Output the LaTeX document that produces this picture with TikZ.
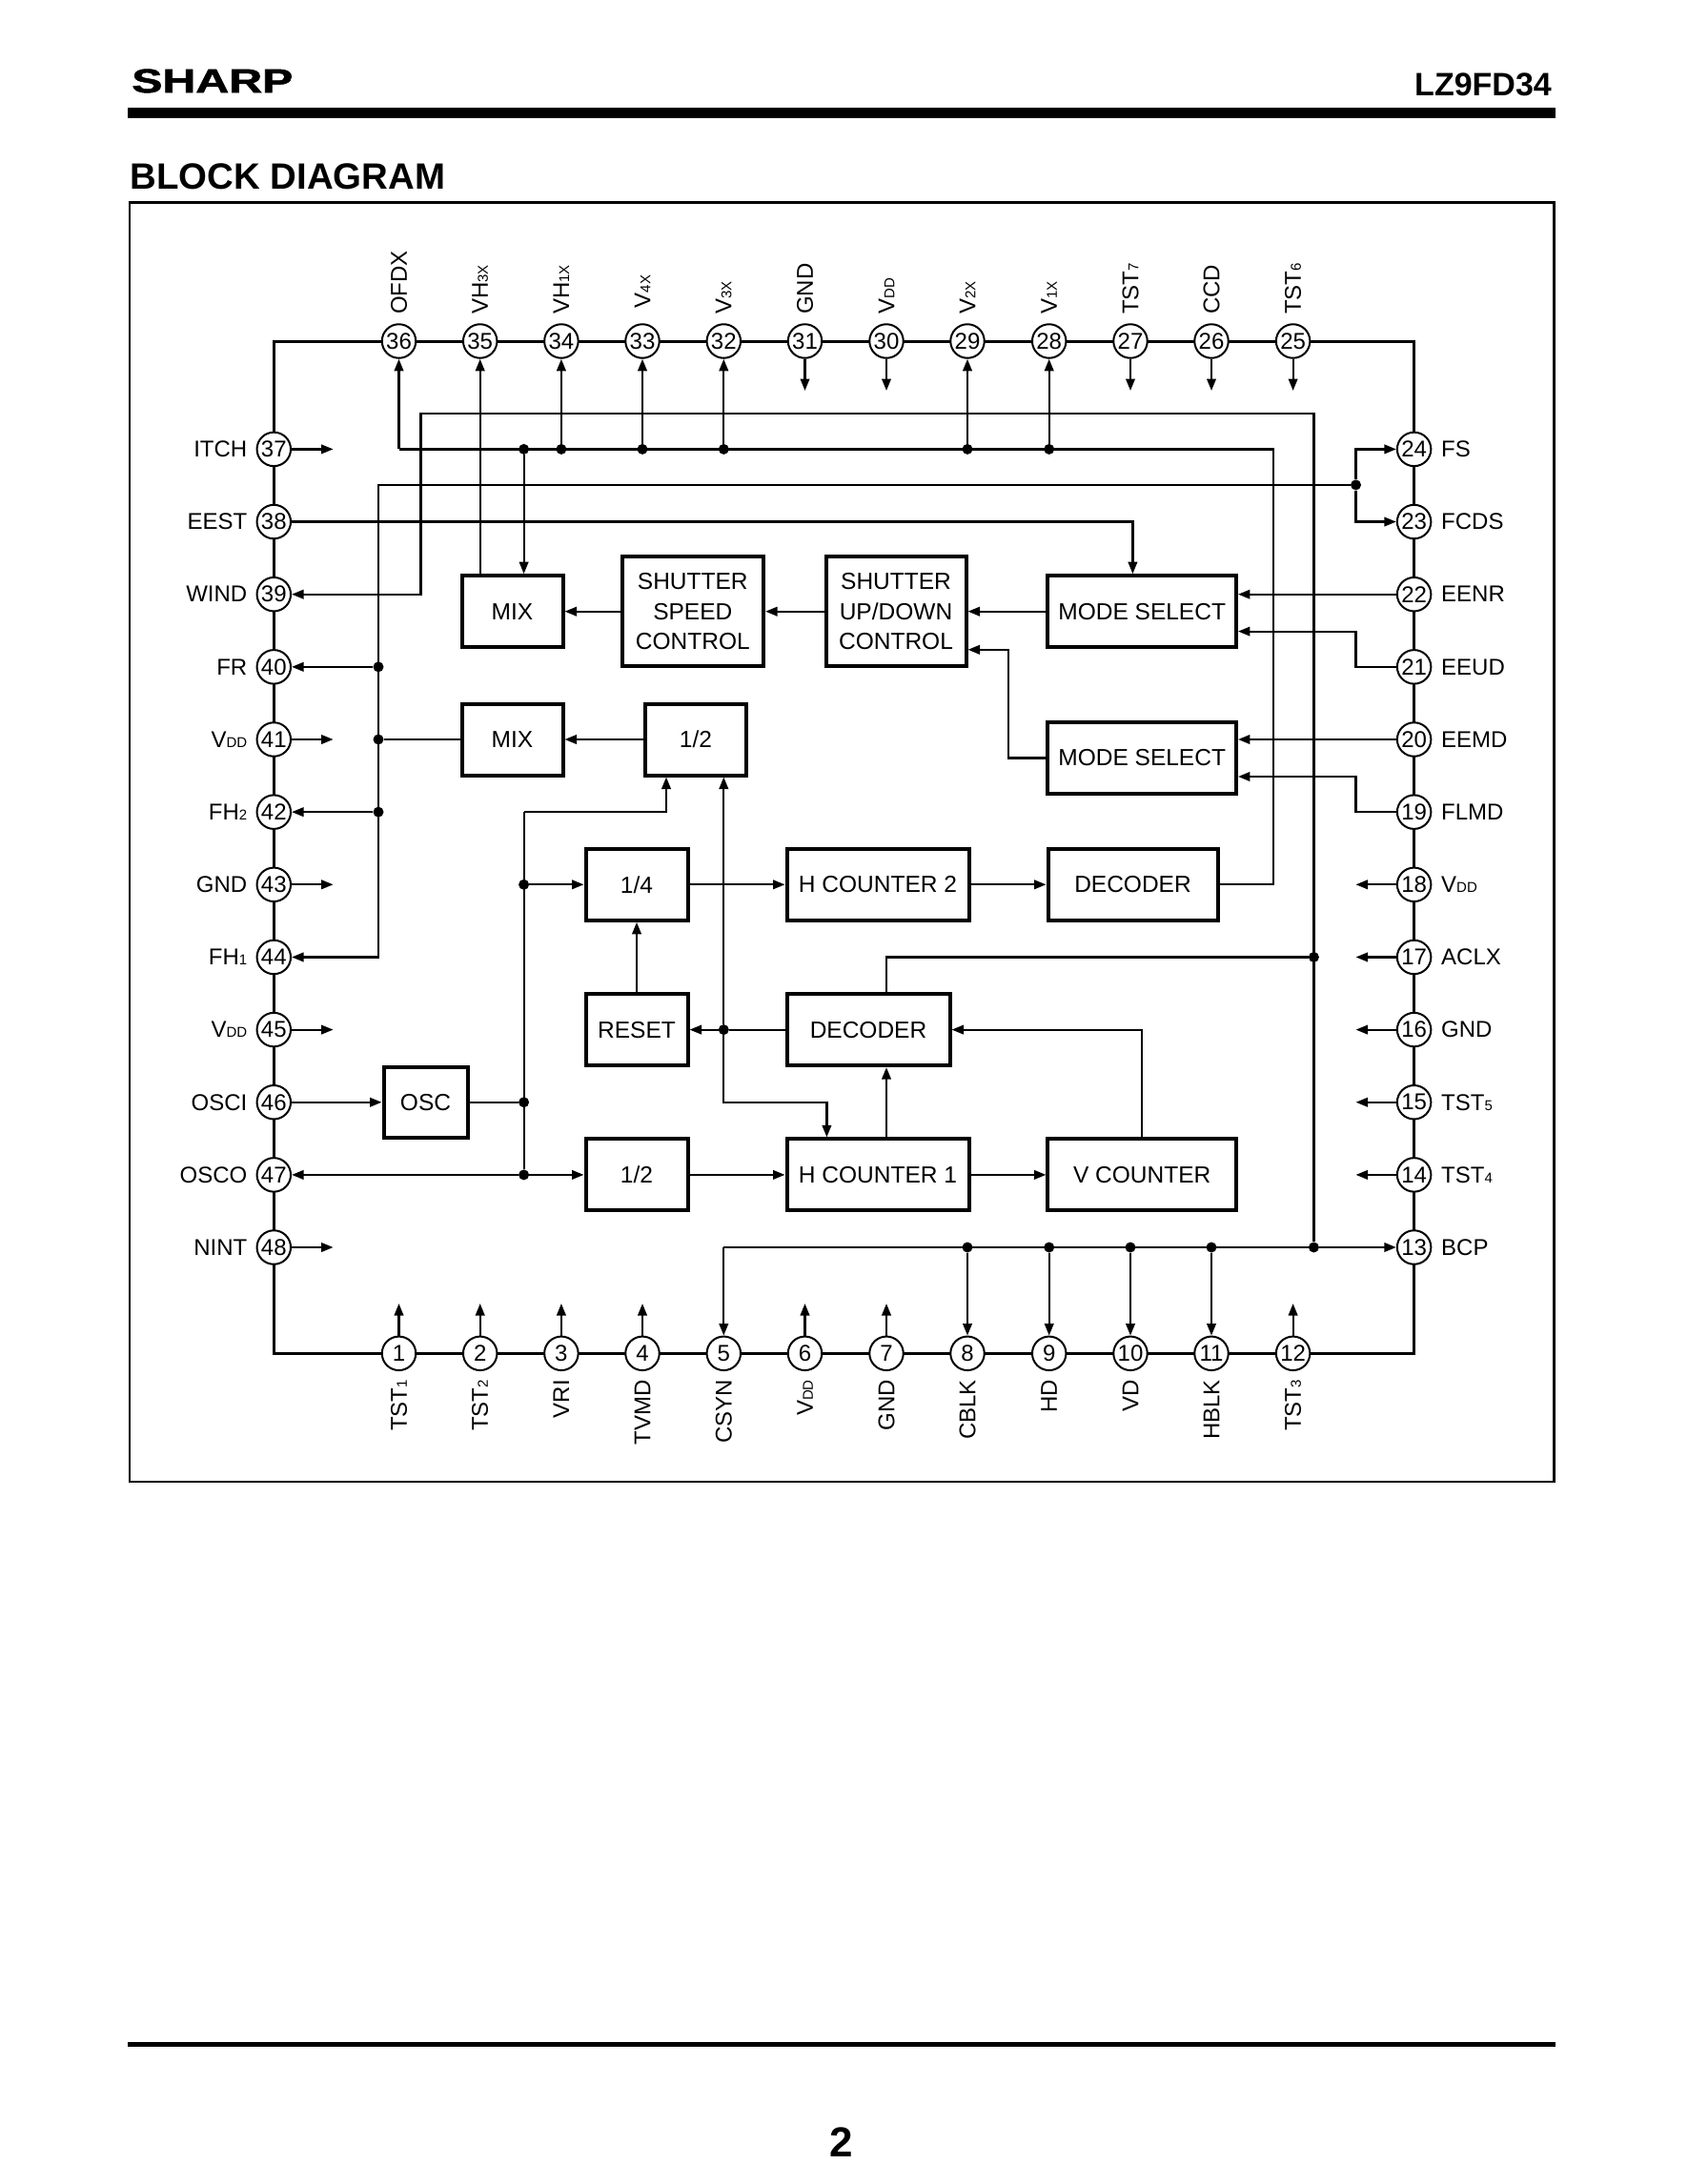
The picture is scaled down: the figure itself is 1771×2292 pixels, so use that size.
\documentclass[tikz,border=0pt]{standalone}
\usepackage{fontspec}
\setmainfont{Liberation Sans}
\newfontfamily\logofont[FakeBold=1.5]{Liberation Sans Bold}
\usetikzlibrary{arrows.meta}
\newcommand{\sm}[1]{{\fontsize{15}{15}\selectfont #1}}
\newcommand{\fs}[1]{\fontsize{#1}{#1}\selectfont}
\tikzset{
  wire/.style={line width=2.2pt},
  sig/.style={line width=2.2pt,-{Triangle[length=12.5pt,width=9.5pt]}},
  pin/.style={circle,draw,fill=white,line width=2pt,inner sep=0pt,minimum size=35.5pt,font=\fs{24}},
  dot/.style={circle,fill=black,inner sep=0pt,minimum size=11pt},
  block/.style={draw,line width=4pt,inner sep=0pt,align=center,font=\fontsize{24.5}{31.5}\selectfont},
  lbl/.style={inner sep=0pt,font=\fs{24}},
}
\begin{document}
\begin{tikzpicture}[x=1pt,y=-1pt]
\useasboundingbox (0,0) rectangle (1771,2292);
\fill[white] (0,0) rectangle (1771,2292);
% page furniture
\node[inner sep=0pt,anchor=base west,xscale=1.38,font=\logofont\fs{35}] (logo) at (138,97) {SHARP};
\node[inner sep=0pt,anchor=base east,font=\bfseries\fs{34}] (part) at (1628,100.5) {LZ9FD34};
\fill (133.8,113) rectangle (1632,123.5);
\node[inner sep=0pt,anchor=base west,font=\bfseries\fs{38.4}] (title) at (136.5,198) {BLOCK DIAGRAM};
\draw[line width=2.5pt] (135.8,212.6) rectangle (1630.5,1555);
\fill (134,2142.7) rectangle (1632,2148);
\node[inner sep=0pt,anchor=base,font=\bfseries\fs{44}] (page) at (883,2263.3) {2};
% chip outline
\draw[line width=3pt] (287.3,358) rectangle (1483.6,1420.3);
% top pins
\foreach \n/\x/\t/\b in {36/418.5/OFDX/330,35/503.7/VH\sm{3X}/330,34/588.9/VH\sm{1X}/330,33/674/V\sm{4X}/323.3,32/759.3/V\sm{3X}/330,31/844.5/GND/330,30/930/V\sm{DD}/330,29/1015/V\sm{2X}/330,28/1100.7/V\sm{1X}/330,27/1186/TST\sm{7}/330,26/1271/CCD/330,25/1356.6/TST\sm{6}/330}{
  \node[pin] (p\n) at (\x,358) {\n};
  \node[lbl,rotate=90,anchor=west] (l\n) at (\x,\b) {\t};
}
% bottom pins
\foreach \n/\x/\t in {1/418.5/TST\sm{1},2/503.7/TST\sm{2},3/588.9/VRI,4/674/TVMD,5/759.3/CSYN,6/844.5/V\sm{DD},7/930/GND,8/1015/CBLK,9/1100.7/HD,10/1186/VD,11/1271/HBLK,12/1356.6/TST\sm{3}}{
  \node[pin] (p\n) at (\x,1420.3) {\n};
  \node[lbl,rotate=90,anchor=east] (l\n) at (\x,1448) {\t};
}
% left pins
\foreach \n/\y/\t in {37/471.4/ITCH,38/547.55/EEST,39/623.7/WIND,40/699.85/FR,41/776/V\sm{DD},42/852.15/FH\sm{2},43/928.3/GND,44/1004.45/FH\sm{1},45/1080.6/V\sm{DD},46/1156.75/OSCI,47/1232.9/OSCO,48/1309/NINT}{
  \node[pin] (p\n) at (287.3,\y) {\n};
  \node[lbl,anchor=east] (l\n) at (259.5,\y) {\t};
}
% right pins
\foreach \n/\y/\t in {24/471.4/FS,23/547.55/FCDS,22/623.7/EENR,21/699.85/EEUD,20/776/EEMD,19/852.15/FLMD,18/928.3/V\sm{DD},17/1004.45/ACLX,16/1080.6/GND,15/1156.75/TST\sm{5},14/1232.9/TST\sm{4},13/1309/BCP}{
  \node[pin] (p\n) at (1483.6,\y) {\n};
  \node[lbl,anchor=west] (l\n) at (1512,\y) {\t};
}
% blocks
\node[block,minimum width=106pt,minimum height=75pt] (mix1) at (537.5,641.7) {MIX};
\node[block,minimum width=148.5pt,minimum height=115pt] (speed) at (726.8,641.7) {SHUTTER\\SPEED\\CONTROL};
\node[block,minimum width=147pt,minimum height=115pt] (updown) at (940,641.7) {SHUTTER\\UP/DOWN\\CONTROL};
\node[block,minimum width=197.5pt,minimum height=75pt] (mode1) at (1198.2,641.7) {MODE SELECT};
\node[block,minimum width=197.5pt,minimum height=75pt] (mode2) at (1198.2,795.4) {MODE SELECT};
\node[block,minimum width=106pt,minimum height=75pt] (mix2) at (537.5,776) {MIX};
\node[block,minimum width=106.5pt,minimum height=75pt] (half1) at (730,776) {1/2};
\node[block,minimum width=107pt,minimum height=75pt] (quarter) at (668,928.3) {1/4};
\node[block,minimum width=191pt,minimum height=75pt] (hc2) at (921,928.3) {H COUNTER 2};
\node[block,minimum width=178pt,minimum height=75pt] (dec1) at (1188.5,928.3) {DECODER};
\node[block,minimum width=107pt,minimum height=75pt] (reset) at (668,1080.6) {RESET};
\node[block,minimum width=171pt,minimum height=75pt] (dec2) at (911,1080.6) {DECODER};
\node[block,minimum width=88pt,minimum height=74pt] (osc) at (446.5,1156.75) {OSC};
\node[block,minimum width=107pt,minimum height=75pt] (half2) at (668,1232.9) {1/2};
\node[block,minimum width=191pt,minimum height=75pt] (hc1) at (921,1232.9) {H COUNTER 1};
\node[block,minimum width=197.5pt,minimum height=75pt] (vc) at (1198.2,1232.9) {V COUNTER};
% free stubs
\foreach \n in {37,41,43,45,48}{\coordinate (s\n) at (349.6,0 |- p\n); \draw[sig] (p\n) -- (s\n -| 349.6,0);}
\foreach \n in {18,17,16,15,14}{\coordinate (s\n) at (1422.5,0 |- p\n); \draw[sig] (p\n) -- (s\n -| 1422.5,0);}
\foreach \n in {31,30,27,26,25}{\coordinate (s\n) at (p\n |- 0,410); \draw[sig] (p\n) -- (s\n);}
\foreach \n in {1,2,3,4,6,7,12}{\coordinate (s\n) at (p\n |- 0,1368); \draw[sig] (p\n) -- (s\n);}
% top bus
\coordinate (b36) at (418.5,471.4);
\coordinate (busE) at (1336,471.4);
\node[dot] (j0) at (549.6,471.4) {};
\foreach \n in {34,33,32,29,28}{\node[dot] (j\n) at (p\n |- b36) {}; \draw[sig] (j\n) -- (p\n);}
\draw[wire] (dec1.east) -| (busE) -- (b36);
\draw[sig] (b36) -- (p36);
\draw[sig] (j0) -- (mix1.north -| j0);
\draw[sig] (mix1.north -| p35) -- (p35);
% WIND / BCP bus
\coordinate (w1) at (441.4,433.9);
\node[dot] (j13) at (1378.4,1309) {};
\node[dot] (j17) at (1378.4,1004.45) {};
\draw[sig] (j13) |- (w1) |- (p39);
\coordinate (col) at (930,1157);
\draw[wire] (j17) -| (dec2.north -| col);
\draw[sig] (hc1.north -| col) -- (dec2.south -| col);
\coordinate (b5) at (759.3,1309);
\draw[wire] (b5) -- (j13);
\draw[sig] (b5) -- (p5);
\draw[sig] (j13) -- (p13);
\foreach \n in {8,9,10,11}{\node[dot] (j\n) at (p\n |- b5) {}; \draw[sig] (j\n) -- (p\n);}
% FS / FCDS bus
\coordinate (f0) at (397,508.9);
\node[dot] (jF) at (1422.5,508.9) {};
\draw[sig] (jF) |- (p24);
\draw[sig] (jF) |- (p23);
\draw[sig] (jF) -- (f0) |- (p44);
\node[dot] (j40) at (397,699.85) {};
\node[dot] (j41) at (397,776) {};
\node[dot] (j42) at (397,852.15) {};
\draw[sig] (j40) -- (p40);
\draw[sig] (j42) -- (p42);
\draw[wire] (j41) -- (mix2.west);
% mode select inputs
\coordinate (e1) at (1188.4,547.55);
\draw[sig] (p38) -- (e1) -- (mode1.north -| e1);
\draw[sig] (p22) -- (mode1.east |- p22);
\coordinate (r21) at (1422.5,662.6);
\draw[sig] (p21) -| (r21) -- (mode1.east |- r21);
\draw[sig] (p20) -- (mode2.east |- p20);
\coordinate (r19) at (1422.5,815);
\draw[sig] (p19) -| (r19) -- (mode2.east |- r19);
% shutter chain
\coordinate (u1) at (1058,681.8);
\draw[sig] (mode2.west) -| (u1) -- (updown.east |- u1);
\draw[sig] (mode1.west) -- (updown.east);
\draw[sig] (updown.west) -- (speed.east);
\draw[sig] (speed.west) -- (mix1.east);
\draw[sig] (half1.west) -- (mix2.east);
% clock column
\coordinate (c2) at (549.6,852.15);
\coordinate (h1) at (699,852.15);
\node[dot] (jq) at (549.6,928.3) {};
\node[dot] (josc) at (549.6,1156.75) {};
\node[dot] (j47) at (549.6,1232.9) {};
\draw[wire] (j47) -- (c2);
\draw[sig] (c2) -- (h1) -- (half1.south -| h1);
\draw[sig] (jq) -- (quarter.west);
\draw[wire] (osc.east) -- (josc);
\draw[sig] (p46) -- (osc.west);
\draw[sig] (j47) -- (p47);
\draw[sig] (j47) -- (half2.west);
% decoder / counters
\node[dot] (jres) at (759.3,1080.6) {};
\coordinate (v1) at (867.4,1156.75);
\draw[sig] (jres) -- (half1.south -| jres);
\draw[sig] (jres) |- (v1) -- (hc1.north -| v1);
\draw[wire] (dec2.west) -- (jres);
\draw[sig] (jres) -- (reset.east);
\draw[sig] (reset.north) -- (quarter.south);
\draw[sig] (quarter.east) -- (hc2.west);
\draw[sig] (hc2.east) -- (dec1.west);
\draw[sig] (half2.east) -- (hc1.west);
\draw[sig] (hc1.east) -- (vc.west);
\draw[sig] (vc.north) |- (dec2.east);
\end{tikzpicture}
\end{document}
